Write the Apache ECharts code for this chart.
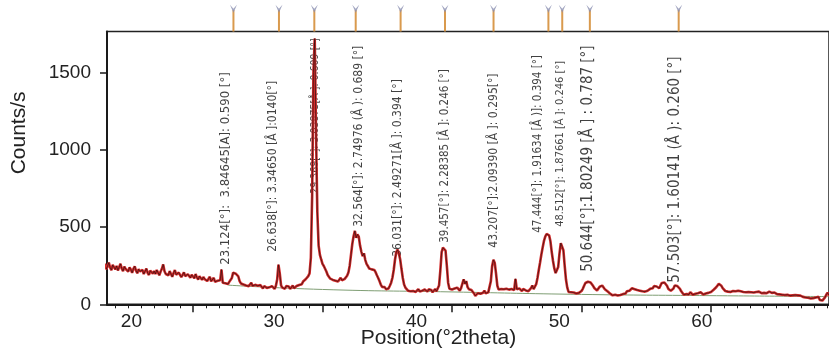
<!DOCTYPE html>
<html>
<head>
<meta charset="utf-8">
<script src="https://cdn.jsdelivr.net/npm/echarts@6/dist/echarts.min.js"></script>
<style>
html, body {margin: 0; padding: 0; background: #fff;}
#chart {width: 829px; height: 360px;}
</style>
</head>
<body>
<div id="chart"></div>
<script>
// scan: 2theta from 13.0 in 0.1 steps, one row per degree
var scanStart = 13.0;
var scanStep = 0.1;
var counts = [
	250,232,262,228,245,270,238,221,255,240, // 13
	226,248,219,240,262,231,215,244,228,236, // 14
	212,239,225,204,230,246,218,201,227,213, // 15
	205,222,196,214,231,203,190,217,208,199, // 16
	215,196,222,205,188,212,230,258,214,196, // 17
	207,188,215,196,178,203,221,192,184,205, // 18
	198,176,190,207,182,170,195,186,172,191, // 19
	185,168,196,174,160,182,171,158,177,163, // 20
	170,151,165,178,149,160,171,146,158,152, // 21
	144,156,225,139,150,136,148,131,145,139, // 22
	170,205,212,198,208,180,150,135,146,128, // 23
	138,122,134,117,128,140,119,110,126,115, // 24
	120,108,124,112,103,118,127,106,115,110, // 25
	104,118,109,99,120,160,256,200,122,108,  // 26
	112,101,118,106,115,99,110,121,104,113,  // 27
	118,107,125,114,130,147,135,162,171,182, // 28
	200,300,700,1500,1720,1100,600,380,320,290, // 29
	262,248,240,212,190,178,166,172,158,165, // 30
	153,162,148,160,171,156,150,163,175,185, // 31
	205,250,320,390,440,475,430,452,438,380, // 32
	340,312,330,288,262,248,232,242,226,214, // 33
	222,208,188,170,150,128,113,104,111,98,  // 34
	108,103,120,140,172,222,290,338,353,328, // 35
	290,228,170,128,108,98,88,96,84,92,      // 36
	86,95,80,91,99,83,94,88,79,96,           // 37
	90,82,97,85,93,78,89,99,84,95,           // 38
	122,220,338,366,362,348,250,140,100,88,  // 39
	96,84,102,91,108,97,88,104,115,162,      // 40
	132,150,112,98,106,92,85,70,55,62,       // 41
	72,84,68,80,75,88,71,83,77,86,           // 42
	150,248,288,268,198,120,96,88,99,91,     // 43
	97,86,101,90,95,84,99,106,92,165,        // 44
	98,88,102,94,86,99,108,90,97,85,         // 45
	96,104,122,98,93,130,170,222,270,322,    // 46
	368,410,438,455,462,446,408,338,280,232, // 47
	202,206,242,330,396,404,350,250,160,108, // 48
	80,72,78,68,76,82,70,79,74,84,           // 49
	86,100,120,138,150,146,152,141,130,118,  // 50
	104,96,90,100,114,124,121,110,98,89,     // 51
	84,76,70,63,58,55,62,52,57,66,           // 52
	60,72,66,78,70,84,95,88,100,104,         // 53
	110,98,86,92,80,88,76,84,95,82,          // 54
	80,88,96,100,92,104,118,126,115,110,     // 55
	104,122,138,130,141,135,120,100,92,88,   // 56
	94,102,122,130,118,121,100,84,76,62,     // 57
	58,66,72,64,78,70,62,74,68,80,           // 58
	72,66,78,70,64,76,70,82,74,78,           // 59
	80,86,94,102,110,118,132,139,120,104,    // 60
	92,86,94,82,88,80,92,86,78,84,           // 61
	82,88,78,84,90,80,86,78,84,80,           // 62
	86,78,82,76,84,80,74,82,78,72,           // 63
	80,74,78,72,76,82,70,74,68,76,           // 64
	70,66,72,64,70,62,68,60,66,62,           // 65
	60,56,64,58,52,60,54,58,50,56,           // 66
	52,48,56,44,50,42,46,38,44,40,           // 67
	36,44,32,48,28,40,24,34,45,62,           // 68
	75,60,55                                 // 69
];
// fitted background
var background = [[22.7, 124], [30, 96], [40, 80], [50, 64], [60, 56], [69.11, 50]];

var peakPos = [23.124, 26.638, 29.369, 32.564, 36.031, 39.457, 43.207, 47.444, 48.512, 50.644, 57.503];
var peakLabels = [
	"23.124[°]:  3.84645[A]: 0.590 [°]",
	"26.638[°]: 3.34650 [Å ]:0140[°]",
	"29.369[°]: 3.03875[Å ]: 0.609 [°]",
	"32.564[°]: 2.74976 (Å ): 0.689 [°]",
	"36.031[°]: 2.49271[Å ]: 0.394 [°]",
	"39.457[°]: 2.28385 [Å ]: 0.246 [°]",
	"43.207[°]:2.09390 [Å ]: 0.295[°]",
	"47.444[°]: 1.91634 [Å )]: 0.394 [°]",
	"48.512[°]: 1.87661 [Å ]: 0.246 [°]",
	"50.644[°]:1.80249 [Å ] : 0.787 [°]",
	"57.503[°]: 1.60141 (Å ): 0.260 [°]"
];
// counts level where each label starts
var labelBase = [256, 340, 715, 501, 307, 398, 366, 463, 501, 210, 139];
var xTicks = [20, 30, 40, 50, 60];
var yTicks = [0, 500, 1000, 1500];

// sideways nudge (px) and font size of each label
var labelShift = [-8, -6, 1, 3, -3, 0, 0, -10, -2, -2, -4];
var labelSize = [13, 12, 10.5, 12, 12, 11.5, 12, 11.5, 11, 15, 15];

var pattern = counts.map(function (c, i) {
	return [+(scanStart + i * scanStep).toFixed(1), c];
});
var minorTicks = [];
for (var t = 14; t <= 69; t++) {
	if (t % 10 != 0) minorTicks.push(t);
}

var xMin = 13.36, xMax = 69.11;
var font = "'Liberation Sans', Arial, sans-serif";
var narrow = "'Liberation Sans Narrow', 'DejaVu Sans Condensed', sans-serif";
var ink = "#1a1a1a";

var myChart = echarts.init(document.getElementById("chart"));
var option = {
	animation: false,
	backgroundColor: "#fff",
	grid: [
		{left: 107, right: 0, top: 31.5, bottom: 55.7, show: true, borderColor: "#222", borderWidth: 1.5},
		{left: 107, right: 0, top: 4, height: 27.5}
	],
	xAxis: [{
		type: "value", gridIndex: 0, min: xMin, max: xMax, position: "bottom",
		axisLine: {lineStyle: {color: ink, width: 2}},
		axisTick: {customValues: xTicks, length: 8, lineStyle: {color: ink, width: 1.5}},
		axisLabel: {show: false},
		splitLine: {show: false},
		name: "Position(°2theta)", nameLocation: "middle", nameGap: 23,
		nameTextStyle: {fontSize: 21, color: "#222", fontFamily: font, padding: [0, 59, 0, 0]}
	}, {
		type: "value", gridIndex: 0, min: xMin, max: xMax, position: "bottom",
		axisLine: {show: false},
		axisTick: {customValues: minorTicks, length: 4, lineStyle: {color: ink, width: 1}},
		axisLabel: {show: false},
		splitLine: {show: false}
	}, {
		// tick labels sit a little off the ticks in the original
		type: "value", gridIndex: 0, min: 18.29, max: 68.92, position: "bottom",
		axisLine: {show: false},
		axisTick: {show: false},
		axisLabel: {customValues: xTicks, margin: 8, fontSize: 19, color: "#222", fontFamily: font},
		splitLine: {show: false}
	}, {
		type: "value", gridIndex: 1, min: xMin, max: xMax, show: false
	}],
	yAxis: [{
		type: "value", gridIndex: 0, min: 0, max: 1765,
		axisLine: {show: true, lineStyle: {color: ink, width: 2}},
		axisTick: {show: true, customValues: yTicks, length: 7, lineStyle: {color: ink, width: 1.5}},
		axisLabel: {
			customValues: yTicks, margin: 16, fontSize: 19, color: "#222", fontFamily: font,
			formatter: function (v) { return String(v); }
		},
		splitLine: {show: false},
		name: "Counts/s", nameLocation: "middle", nameGap: 77,
		nameTextStyle: {fontSize: 21, color: "#222", fontFamily: font, padding: [0, 0, 0, 70]}
	}, {
		type: "value", gridIndex: 1, min: 0, max: 1, show: false
	}],
	series: [{
		name: "labels",
		type: "scatter",
		xAxisIndex: 0, yAxisIndex: 0,
		z: 1,
		silent: true,
		symbolSize: 1,
		itemStyle: {color: "rgba(0,0,0,0)"},
		data: peakPos.map(function (p, i) {
			// label frame is turned, so its y offset is the sideways shift
			return {value: [p, labelBase[i]], label: {offset: [0, labelShift[i]], fontSize: labelSize[i]}};
		}),
		label: {
			show: true, position: "inside", align: "left", verticalAlign: "middle", rotate: 90,
			color: "#111", fontFamily: narrow, fontSize: 13,
			formatter: function (p) { return peakLabels[p.dataIndex]; }
		}
	}, {
		name: "background",
		type: "line",
		xAxisIndex: 0, yAxisIndex: 0,
		z: 2,
		smooth: true,
		symbol: "none",
		lineStyle: {color: "#7f9e74", width: 1},
		data: background
	}, {
		name: "observed",
		type: "line",
		xAxisIndex: 0, yAxisIndex: 0,
		z: 3,
		symbol: "none",
		lineStyle: {color: "#d42b2b", width: 2.6},
		data: pattern
	}, {
		name: "calculated",
		type: "line",
		xAxisIndex: 0, yAxisIndex: 0,
		z: 4,
		symbol: "none",
		lineStyle: {color: "#2b1010", width: 0.7},
		data: pattern
	}, {
		name: "peak ticks",
		type: "bar",
		xAxisIndex: 3, yAxisIndex: 1,
		barWidth: 2,
		itemStyle: {color: "#d99a4e"},
		data: peakPos.map(function (p) { return [p, 0.78]; })
	}, {
		name: "peak heads",
		type: "scatter",
		xAxisIndex: 3, yAxisIndex: 1,
		symbol: "path://M0,0 L5,10 L10,0 L5,5 Z",
		symbolSize: [7, 8],
		itemStyle: {color: "#8a8fb0"},
		data: peakPos.map(function (p) { return [p, 0.83]; })
	}]
};
myChart.setOption(option);
</script>
</body>
</html>
